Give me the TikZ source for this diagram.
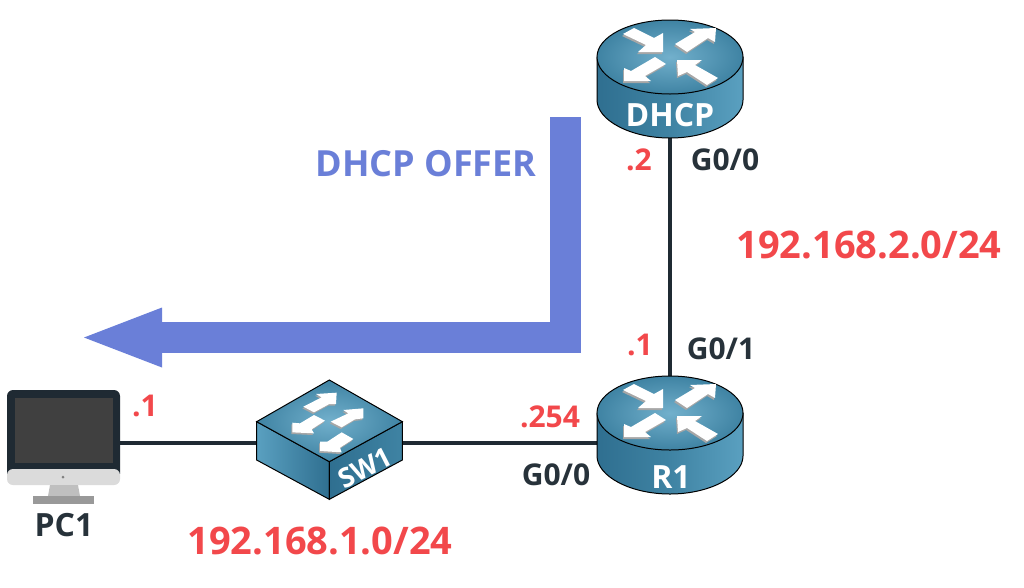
\documentclass[tikz,border=0pt]{standalone}
\usepackage{fontspec}
\setmainfont{Open Sans}
\usepackage{xcolor}
\usetikzlibrary{arrows.meta}

\definecolor{linkdark}{HTML}{1F2A33}
\definecolor{addrred}{HTML}{F2484B}
\definecolor{offerblue}{HTML}{6A7FD8}
\definecolor{labeldark}{HTML}{27323A}
\definecolor{ciscotop}{HTML}{72B0CC}
\definecolor{ciscoedge}{HTML}{3F83A3}
\definecolor{ciscoside}{HTML}{2F6F90}
\definecolor{ciscolight}{HTML}{5AA0C0}

\tikzset{
    whitearrow/.style={fill=white},
    arrowshade/.style={fill=black!35},
    routerarrow/.pic={
        \fill[arrowshade,shift={(-1,2)}] #1 -- cycle;
        \fill[whitearrow] #1 -- cycle;
    },
    routericon/.pic={
        % body
        \draw[black, line width=1pt, left color=ciscoside, right color=ciscolight, middle color=ciscoedge]
            (-73,0) -- (-73,43) .. controls (-73,63) and (-40,81) .. (0,81)
            .. controls (40,81) and (73,63) .. (73,43) -- (73,0) -- cycle;
        % top
        \draw[black, line width=1pt, inner color=ciscotop, outer color=ciscoedge]
            (0,0) ellipse [x radius=73pt, y radius=37pt];
        \pic {routerarrow={(-47,-23) -- (-36,-29) -- (-16,-19) -- (-7,-24) -- (-7,-5) -- (-32,-5) -- (-24,-12)}};
        \pic {routerarrow={(5,-13) -- (25,-25) -- (20,-28) -- (46,-29) -- (45,-15) -- (38,-19) -- (17,-5)}};
        \pic {routerarrow={(-15,0) -- (-4,7) -- (-25,19) -- (-19,24) -- (-46,24) -- (-46,11) -- (-39,14)}};
        \pic {routerarrow={(7,3) -- (32,3) -- (25,8) -- (48,21) -- (37,28) -- (17,15) -- (8,19)}};
    },
    devlabel/.style={font=\fontsize{32}{32}\selectfont\bfseries, text=labeldark},
    iflabel/.style={font=\fontsize{30}{30}\selectfont\bfseries, text=labeldark},
    hostlabel/.style={font=\fontsize{30}{30}\selectfont\bfseries, text=addrred},
    netlabel/.style={font=\fontsize{38}{38}\selectfont\bfseries, text=addrred},
    iconlabel/.style={font=\fontsize{32}{32}\selectfont\bfseries, text=white}
}

\begin{document}
\begin{tikzpicture}[x=1pt, y=-1pt]
    \useasboundingbox (0,0) rectangle (1024,587);

    \coordinate (PC1) at (64,443);
    \coordinate (SW1) at (329,443);
    \coordinate (R1) at (670,413);
    \coordinate (DHCP) at (670,57);
    \coordinate (offerstart) at (565.5,117);
    \coordinate (offerend) at (84,337.5);

    % links
    \draw[linkdark, line width=4pt] (PC1) -- (SW1) -- (SW1 -| R1);
    \draw[linkdark, line width=4pt] (DHCP) -- (R1);

    % offer arrow
    \draw[offerblue, line width=31pt, -{Triangle[length=78pt, width=60pt, line width=0pt]}] (offerstart) |- (offerend);
    \node[font=\fontsize{36}{36}\selectfont\bfseries, text=offerblue] (offer) at (426,164) {DHCP OFFER};

    % routers
    \pic at (DHCP) {routericon};
    \pic at (R1) {routericon};
    \node[iconlabel] (dhcpname) at (670,115) {DHCP};
    \node[iconlabel] (r1name) at (671,477) {R1};

    % switch
    \begin{scope}[shift={(240,380)}, scale=1/3]
        \draw[black, line width=1pt, left color=ciscolight, right color=ciscoside]
            (50,125) -- (50,240) -- (268,358) -- (268,245) -- cycle;
        \draw[black, line width=1pt, left color=ciscoside, right color=ciscoedge]
            (268,245) -- (268,358) -- (487,240) -- (487,125) -- cycle;
        \draw[black, line width=1pt, inner color=ciscotop, outer color=ciscoedge]
            (50,125) -- (268,0) -- (487,125) -- (268,245) -- cycle;
        \foreach \arrowpts in {
            {(190,80) -- (222,97) -- (268,72) -- (288,72) -- (290,38) -- (228,42) -- (245,52)},
            {(272,125) -- (305,142) -- (345,118) -- (370,115) -- (370,85) -- (310,90) -- (325,100)},
            {(222,105) -- (255,122) -- (215,148) -- (222,160) -- (157,157) -- (157,128) -- (180,130)},
            {(305,157) -- (340,177) -- (300,203) -- (305,217) -- (240,213) -- (240,185) -- (262,185)}} {
            \fill[arrowshade, shift={(-3,5)}] \arrowpts -- cycle;
            \fill[whitearrow] \arrowpts -- cycle;
        }
    \end{scope}
    \node[iconlabel, rotate=27, font=\fontsize{27}{27}\selectfont\bfseries] (sw1name) at (365,468) {SW1};

    % computer
    \fill[linkdark, rounded corners=6pt] (7,390) rectangle (120,480);
    \fill[black!14, rounded corners=6pt] (7,469) -- (120,469) -- (120,485) -- (7,485) -- cycle;
    \fill[black!75!white] (15,398) rectangle (113,463);
    \fill[gray] (63,477) circle (1.5);
    \fill[black!25] (50,485) -- (78,485) -- (80,496) -- (48,496) -- cycle;
    \fill[black!40] (33,496) rectangle (94,504);

    % labels
    \node[devlabel] (pcname) at (64,525) {PC1};
    \node[hostlabel] (pchost) at (145,406) {.1};
    \node[netlabel] (lannet) at (320,541) {192.168.1.0/24};
    \node[hostlabel] (r1host) at (550,417) {.254};
    \node[iflabel] (r1lan) at (556,475) {G0/0};
    \node[hostlabel] (dhcphost) at (639,160) {.2};
    \node[iflabel] (dhcpif) at (725,160) {G0/0};
    \node[netlabel] (wannet) at (869,245) {192.168.2.0/24};
    \node[hostlabel] (r1wanhost) at (640,345) {.1};
    \node[iflabel] (r1wan) at (721,349) {G0/1};
\end{tikzpicture}
\end{document}
